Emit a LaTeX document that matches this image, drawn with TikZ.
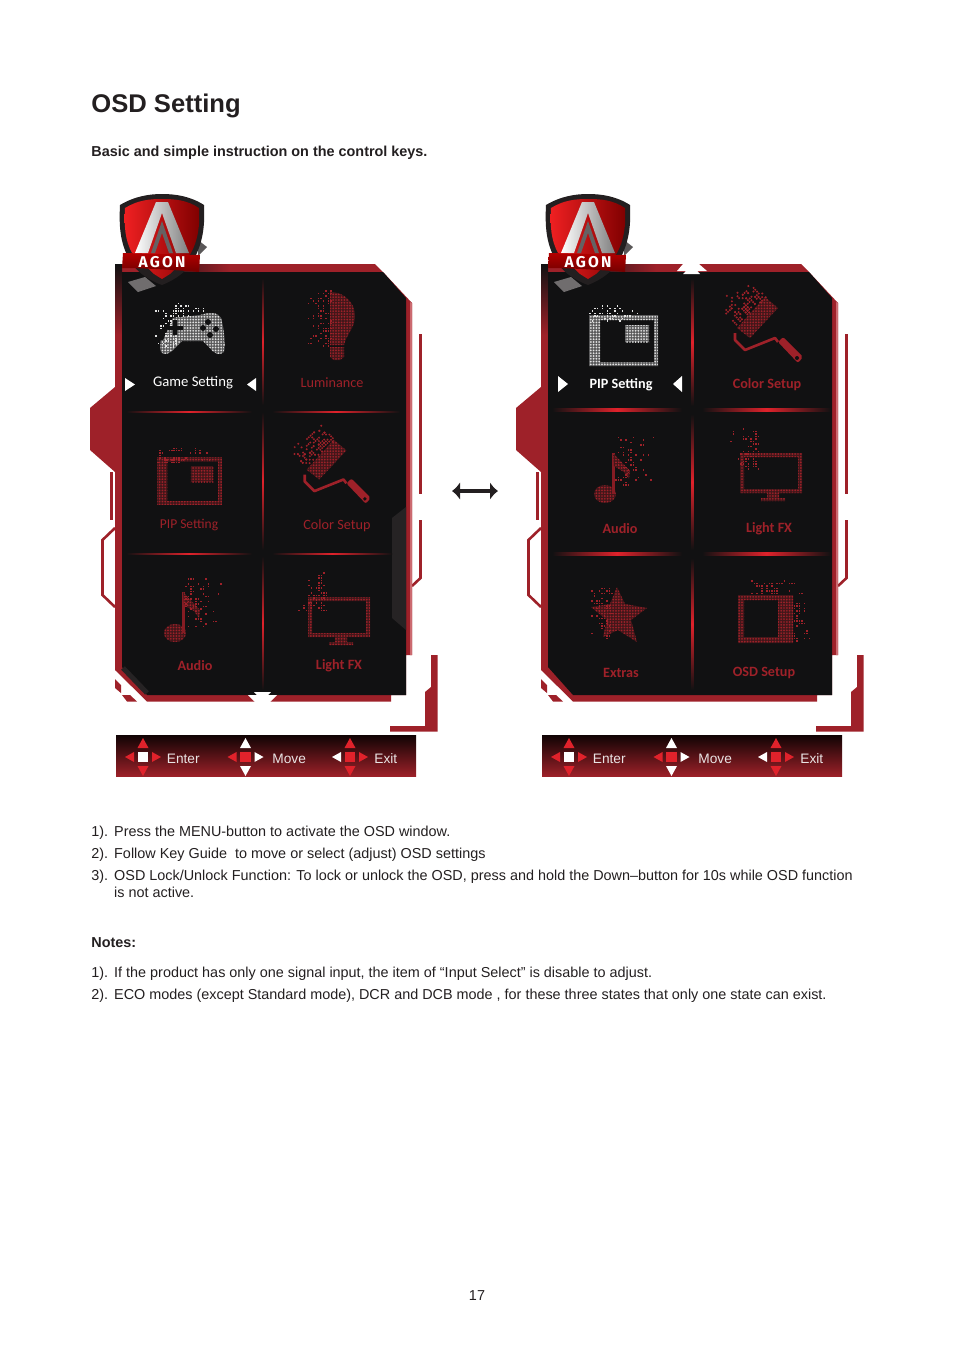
\documentclass[tikz,border=0pt]{standalone}
\usepackage{fontspec}
\setmainfont{Liberation Sans}
\newfontfamily\menufont{Carlito}
\newfontfamily\agonfont[LetterSpace=14]{Fira Sans}
\usetikzlibrary{patterns.meta,arrows.meta}
\definecolor{ink}{HTML}{231F20}
\definecolor{osdred}{HTML}{9E2129}
\definecolor{osdglow}{HTML}{E0222B}
\definecolor{osdbody}{HTML}{111112}
\definecolor{osdtab}{HTML}{262324}
\definecolor{osdpink}{HTML}{CB6A70}
\definecolor{keytext}{HTML}{E9E4E4}
\definecolor{icongrey}{HTML}{E2E2E2}
\colorlet{iconc}{osdred}
\newcommand{\bodysize}{\fontsize{7.2}{9}\selectfont}
\newcommand{\numlabel}[1]{\makebox[11.4pt][l]{#1}}
\tikzset{
	bodytext/.style={anchor=base west,inner sep=0pt,text=ink,font=\bodysize},
	menulabel/.style={inner sep=0pt,yshift=-0.4pt,text=osdred,font=\menufont\fontsize{7.1}{8}\selectfont},
	menubold/.style={menulabel,font=\menufont\bfseries\fontsize{7.1}{8}\selectfont},
	keylabel/.style={anchor=base west,inner sep=0pt,text=keytext,font=\fontsize{6.85}{9}\selectfont},
	dotfill/.style={preaction={fill=iconc!35!osdbody,even odd rule},pattern={Dots[distance=1.4pt,radius=0.48pt]},pattern color=iconc},
}
% random squares, thick at x0 and thin at x1
\newcommand{\dotscatter}[5]{
	\foreach \i in {1,...,#5}{
		\pgfmathsetmacro{\dotx}{2.5*round((#1+(#3-#1)*rnd*(0.25+0.75*rnd))/2.5)}
		\pgfmathsetmacro{\doty}{2.5*round((#2+(#4-#2)*rnd)/2.5)}
		\fill[iconc] (\dotx,\doty) rectangle +(1.6,1.6);
	}
}
\newcommand{\glowh}[4]{\shade[left color=osdbody,right color=osdbody,middle color=osdglow] (#1,{#3-#4/2}) rectangle (#2,{#3+#4/2});}
\newcommand{\glowv}[4]{\shade[top color=osdbody,bottom color=osdbody,middle color=osdglow] ({#3-#4/2},#1) rectangle ({#3+#4/2},#2);}
\newcommand{\iconpip}{
	\fill[dotfill,even odd rule] (0,0) rectangle (69,51) (11,5) rectangle (65,47);
	\fill[dotfill] (36,10) rectangle (60,27);
	\dotscatter{0}{5}{66}{-10}{50}
}
\newcommand{\iconroller}{
	\fill[dotfill] (12,41) -- (40,10) -- (53,21) -- (25,51) -- cycle;
	\begin{scope}[shift={(26,25)},rotate=133]
		\dotscatter{0}{-20}{28}{20}{90}
	\end{scope}
	\draw[iconc,line width=1.3pt,line join=round] (10,46) -- (10,53) -- (20,63) -- (50,51) -- (53,55);
	\fill[iconc,rounded corners=1pt] (53,55) -- (58,50) -- (78,70) -- (73,76) -- cycle;
	\fill[osdbody] (72,71) circle (2);
}
\newcommand{\iconaudio}{
	\fill[dotfill] (0,0) ellipse (11 and 9);
	\fill[iconc!85!black] (7,-41) rectangle (9.5,0);
	\fill[dotfill] (8,-41) -- (25,-23) -- (24,-15) -- (19,-22) -- (9,-28) -- cycle;
	\dotscatter{9}{-58}{50}{-8}{65}
}
\newcommand{\iconlight}{
	\fill[dotfill,even odd rule] (0,0) rectangle (62,40) (4,4) rectangle (58,36);
	\fill[dotfill] (27,40) rectangle (39,45) (21,45) rectangle (45,48);
	\dotscatter{18}{-24}{-13}{15}{70}
}
% the red frame round a menu, with the black face
\newcommand{\osdframe}{
	\fill[osdred] (90,408) -- (115,387) -- (115,472) -- (90,450) -- cycle;
	\fill[osdred] (110,472) rectangle (113,520);
	\draw[osdred,line width=1.3pt] (115,528) -- (102.5,540) -- (102.5,595) -- (115,607);
	\fill[osdred] (419,334) rectangle (422,494);
	\draw[osdred,line width=1.3pt] (420.5,520) -- (420.5,578) -- (412,586);
	\fill[osdred] (431,655) -- (431,687) -- (425,692) -- (425,726) -- (390,726) -- (390,731.5) -- (437.5,731.5) -- (437.5,655) -- cycle;
	\fill[osdred] (115,264) -- (375,264) -- (383,272) -- (412,303) -- (412,655) -- (406,655) -- (406,695) -- (391,695) -- (391,701.5) -- (147,701.5) -- (115,670) -- cycle;
	\fill[osdpink] (410,302) -- (412,303) -- (412,655) -- (410,655) -- cycle;
	\fill[osdred] (115,679) -- (121,685) -- (121,693) -- (115,688) -- cycle;
	\fill[osdred] (122,695) -- (130,695) -- (137,701.5) -- (127,701.5) -- cycle;
	\shade[left color=osdbody,right color=osdred] (150,264) rectangle (230,272);
	\shade[top color=osdbody,bottom color=osdred] (115,264) rectangle (122,335);
	\fill[osdbody] (122,272) -- (383,272) -- (406,298) -- (406,695) -- (147,695) -- (122,667) -- cycle;
}
\newcommand{\agonshield}{
	\fill[ink!75] (198,240) -- (207,247) -- (198,256) -- cycle;
	\fill[ink!65] (128,282) -- (145,277) -- (156,286) -- (138,292) -- cycle;
	\fill[ink] (120,205) .. controls (135,196) and (150,194) .. (162,194) .. controls (175,194) and (190,196) .. (204,205) .. controls (205,225) and (203,240) .. (196,255) .. controls (190,270) and (175,280) .. (162,285) .. controls (148,280) and (133,270) .. (127,255) .. controls (120,240) and (119,225) .. (120,205) -- cycle;
	\shade[left color=red!70!osdpink,right color=red!50!black] (125,208) .. controls (138,200) and (150,199) .. (162,199) .. controls (175,199) and (187,200) .. (199,208) .. controls (200,226) and (198,240) .. (191,253) -- (170,274) -- (162,279) -- (154,274) -- (132,253) .. controls (125,240) and (124,226) .. (125,208) -- cycle;
	\shade[left color=white,right color=black!50] (156,202) -- (168,202) -- (189,253) -- (176,253) -- (162,213) -- (148,253) -- (135,253) -- cycle;
	\fill[ink!70] (162,221) -- (173,253) -- (169,253) -- (162,233) -- (155,253) -- (151,253) -- cycle;
	\shade[top color=red!70!black,bottom color=red!45!black] (123,253) -- (200,255) -- (199,272) .. controls (175,270) and (145,268) .. (122,268) -- cycle;
	\node[inner sep=0pt,text=white] (shieldtext) at (162,262.5) {\agonfont\bfseries\fontsize{7.8}{8}\selectfont AGON};
}
\newcommand{\keycluster}[6]{
	\fill[#2] ({#1-5.3},751.7) rectangle ({#1+5.3},762.3);
	\fill[#3] ({#1-5.5},748) -- (#1,738) -- ({#1+5.5},748) -- cycle;
	\fill[#4] ({#1-5.5},766) -- (#1,776) -- ({#1+5.5},766) -- cycle;
	\fill[#5] ({#1-9},752) -- ({#1-18},757) -- ({#1-9},762) -- cycle;
	\fill[#6] ({#1+9},752) -- ({#1+18},757) -- ({#1+9},762) -- cycle;
}
\newcommand{\keybar}{
	\shade[top color=black!90!osdred,bottom color=osdred] (116,735) rectangle (416,776.7);
	\keycluster{143}{white}{osdglow}{osdglow}{osdglow}{osdglow}
	\keycluster{245.5}{osdglow}{white}{white}{osdglow}{white}
	\keycluster{350}{osdglow}{osdglow}{osdglow}{white}{osdglow}
	\node[keylabel] (enterkey) at (166.5,763) {Enter};
	\node[keylabel] (movekey) at (272,763) {Move};
	\node[keylabel] (exitkey) at (374,763) {Exit};
}
\begin{document}
\begin{tikzpicture}[x=0.5pt,y=-0.5pt]
	\useasboundingbox (0,0) rectangle (954,1350);
	\pgfmathsetseed{23}
	\node[anchor=base west,inner sep=0pt,text=ink,font=\bfseries\fontsize{12.8}{15}\selectfont] (title) at (91,112.5) {OSD Setting};
	\node[bodytext,font=\bfseries\bodysize] (subtitle) at (91,156) {Basic and simple instruction on the control keys.};

	\begin{scope}[name prefix=L-]
		\osdframe
		\fill[osdtab] (406,507) -- (392,518) -- (392,618) -- (406,630) -- cycle;
		\draw[osdtab,line width=2.5pt] (123,668) -- (147,693);
		\glowv{278}{405}{262.7}{1.4}
		\glowv{412}{550}{262.7}{1.4}
		\glowv{556}{690}{262.7}{1.4}
		\glowh{126}{252}{412}{1.6}
		\glowh{272}{400}{412}{1.6}
		\glowh{126}{252}{554}{1.6}
		\glowh{272}{392}{554}{1.6}
		\agonshield
		\fill[white] (254,692) -- (271,692) -- (268,695) -- (277,695) -- (270,702) -- (255,702) -- (248,695) -- (257,695) -- cycle;
		\fill[white] (125,378) -- (135,384.5) -- (125,391) -- cycle;
		\fill[white] (256,378) -- (247,384.5) -- (256,391) -- cycle;
		% game pad, white as it is the chosen item
		\colorlet{iconc}{icongrey}
		\fill[dotfill] (168,320) .. controls (175,317) .. (182,317) -- (200,315) .. controls (210,312) and (218,312) .. (221,318) .. controls (224,328) and (226,345) .. (224,352) .. controls (220,356) and (214,354) .. (210,348) -- (203,341) -- (182,341) -- (175,348) .. controls (170,354) and (164,356) .. (161,352) .. controls (158,345) and (163,328) .. (168,320) -- cycle;
		\fill[osdbody] (150,300) -- (178,300) -- (172,320) -- (163,340) -- (150,340) -- cycle;
		\dotscatter{176}{308}{150}{345}{65}
		\dotscatter{172}{303}{214}{316}{30}
		\fill[osdbody] (173,320) rectangle (177,335) (168,326) rectangle (183,330);
		\fill[osdbody] (208,322) circle (3) (216,329) circle (3) (210,335) circle (3) (203,328) circle (3);
		\colorlet{iconc}{osdred}
		% bulb
		\fill[dotfill] (330,292) .. controls (345,292) and (355,303) .. (355,316) .. controls (355,328) and (346,335) .. (344,345) -- (330,345) -- cycle;
		\fill[dotfill] (330,347) -- (344,347) -- (344,357) -- (340,360) -- (334,360) -- (330,357) -- cycle;
		\dotscatter{330}{290}{304}{345}{80}
		\begin{scope}[shift={(157,457)},scale=0.94]
			\iconpip
		\end{scope}
		\begin{scope}[shift={(295,430)},scale=0.97]
			\iconroller
		\end{scope}
		\begin{scope}[shift={(175,633)}]
			\iconaudio
		\end{scope}
		\begin{scope}[shift={(308,597)}]
			\iconlight
		\end{scope}
		\node[menulabel,text=white,font=\menufont\fontsize{7.35}{8}\selectfont] (game) at (193,382) {Game Setting};
		\node[menulabel] (luminance) at (332,382) {Luminance};
		\node[menulabel,font=\menufont\fontsize{6.75}{8}\selectfont] (pip) at (189,524) {PIP Setting};
		\node[menulabel] (color) at (337,525) {Color Setup};
		\node[menubold] (audio) at (195,665) {Audio};
		\node[menubold] (light) at (339,665) {Light FX};
		\keybar
	\end{scope}

	\begin{scope}[shift={(426,0)},name prefix=R-]
		\osdframe
		\glowv{278}{406}{266.7}{2.5}
		\glowv{414}{550}{266.7}{2.5}
		\glowv{558}{690}{266.7}{2.5}
		\glowh{126}{256}{410}{2.8}
		\glowh{276}{405}{410}{2.8}
		\glowh{126}{256}{554}{2.8}
		\glowh{276}{405}{554}{2.8}
		\agonshield
		\fill[white] (257,264) -- (273,264) -- (281,271) -- (271,271) -- (274,274) -- (257,274) -- (260,271) -- (251,271) -- cycle;
		\fill[white] (132,376) -- (142,384) -- (132,392) -- cycle;
		\fill[white] (256,376) -- (247,384) -- (256,392) -- cycle;
		\colorlet{iconc}{icongrey}
		\begin{scope}[shift={(163,315)}]
			\iconpip
		\end{scope}
		\colorlet{iconc}{osdred}
		\begin{scope}[shift={(299,287)}]
			\iconroller
		\end{scope}
		\begin{scope}[shift={(179,494)}]
			\iconaudio
		\end{scope}
		\begin{scope}[shift={(314,453)}]
			\iconlight
		\end{scope}
		% star
		\fill[dotfill] (191,587) -- (199,604) -- (221,608) -- (205,620) -- (211,642) -- (192,630) -- (177,637) -- (181,620) -- (165,607) -- (184,604) -- cycle;
		\dotscatter{185}{585}{160}{640}{60}
		% osd icon
		\fill[dotfill,even odd rule] (312,595) rectangle (367,643) (318,600) rectangle (352,637);
		\fill[dotfill] (354,606) rectangle (360,612) (354,613) rectangle (360,619) (354,621) rectangle (360,626) (354,628) rectangle (360,634);
		\dotscatter{367}{600}{385}{640}{40}
		\dotscatter{325}{594}{380}{580}{45}
		\node[menubold,text=white] (pip) at (195,384) {PIP Setting};
		\node[menubold] (color) at (341,384) {Color Setup};
		\node[menubold] (audio) at (194,528) {Audio};
		\node[menubold] (light) at (343,528) {Light FX};
		\node[menubold] (extras) at (195,672) {Extras};
		\node[menubold] (osd) at (338,672) {OSD Setup};
		\keybar
	\end{scope}

	\coordinate (swapL) at (452,491);
	\coordinate (swapR) at (498,491);
	\draw[line width=2pt,{Latex[length=4pt,width=9pt]}-{Latex[length=4pt,width=9pt]},ink] (swapL) -- (swapR);

	\node[bodytext] (step1) at (91,836) {\numlabel{1).}Press the MENU-button to activate the OSD window.};
	\node[bodytext] (step2) at (91,858) {\numlabel{2).}Follow Key Guide\ \ to move or select (adjust) OSD settings};
	\node[bodytext] (step3) at (91,880) {\numlabel{3).}OSD Lock/Unlock Function: To lock or unlock the OSD, press and hold the Down--button for 10s while OSD function};
	\node[bodytext] (step3b) at (113.8,897) {is not active.};
	\node[bodytext,font=\bfseries\bodysize] (notes) at (91,947) {Notes:};
	\node[bodytext] (note1) at (91,977) {\numlabel{1).}If the product has only one signal input, the item of “Input Select” is disable to adjust.};
	\node[bodytext] (note2) at (91,999) {\numlabel{2).}ECO modes (except Standard mode), DCR and DCB mode , for these three states that only one state can exist.};
	\node[inner sep=0pt,text=ink,font=\bodysize] (pageno) at (477,1296) {17};
\end{tikzpicture}
\end{document}
